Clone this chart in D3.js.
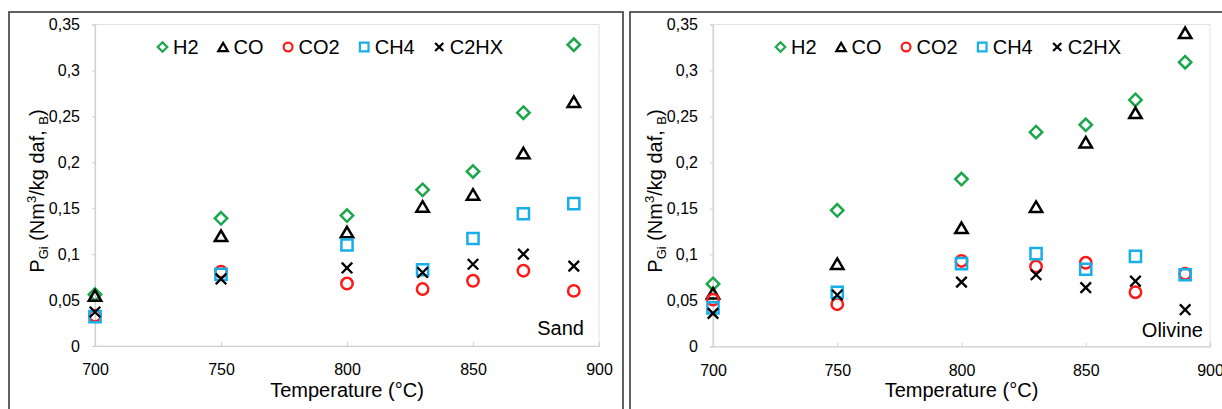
<!DOCTYPE html>
<html>
<head>
<meta charset="utf-8">
<script src="https://cdn.jsdelivr.net/npm/d3@7"></script>
<style>
  html, body { margin: 0; padding: 0; background: #fff; }
  svg { display: block; }
  text { font-family: "Liberation Sans", Arial, sans-serif; fill: #000; }
</style>
</head>
<body>
<svg id="chart" width="1222" height="409"></svg>
<script>
// ---------- data ----------
const temperatures = [700, 750, 800, 830, 850, 870, 890];
const seriesNames = ["H2", "CO", "CO2", "CH4", "C2HX"];

const sandH2   = [0.056, 0.139, 0.142, 0.170, 0.190, 0.254, 0.328];
const sandCO   = [0.055, 0.120, 0.124, 0.152, 0.165, 0.210, 0.266];
const sandCO2  = [0.033, 0.081, 0.068, 0.062, 0.071, 0.082, 0.060];
const sandCH4  = [0.032, 0.078, 0.110, 0.083, 0.117, 0.144, 0.155];
const sandC2HX = [0.037, 0.073, 0.085, 0.080, 0.089, 0.100, 0.087];

const olivineH2   = [0.068, 0.148, 0.182, 0.233, 0.241, 0.268, 0.309];
const olivineCO   = [0.058, 0.090, 0.129, 0.152, 0.222, 0.254, 0.341];
const olivineCO2  = [0.051, 0.046, 0.093, 0.087, 0.091, 0.059, 0.079];
const olivineCH4  = [0.042, 0.059, 0.090, 0.101, 0.084, 0.098, 0.078];
const olivineC2HX = [0.036, 0.056, 0.070, 0.078, 0.064, 0.071, 0.040];

const xTicks = [700, 750, 800, 850, 900];
const yTicks = [0, 0.05, 0.1, 0.15, 0.2, 0.25, 0.3, 0.35];
const yTickLabels = ["0", "0,05", "0,1", "0,15", "0,2", "0,25", "0,3", "0,35"];
const xTitle = "Temperature (°C)";
const panelLabels = ["Sand", "Olivine"];

// ---------- styles ----------
const colors = { H2: "#1ca64c", CO: "#000000", CO2: "#ff1a1a", CH4: "#18aee8", C2HX: "#000000" };
const shapes = { H2: "diamond", CO: "triangle", CO2: "circle", CH4: "square", C2HX: "cross" };

function markerPath(shape, s) {
  // s = half-size
  const p = d3.path();
  if (shape === "diamond") {
    p.moveTo(0, -s); p.lineTo(s, 0); p.lineTo(0, s); p.lineTo(-s, 0); p.closePath();
  } else if (shape === "triangle") {
    const h = s * 1.7;
    p.moveTo(0, -h / 2); p.lineTo(s * 1.0, h / 2); p.lineTo(-s * 1.0, h / 2); p.closePath();
  } else if (shape === "circle") {
    p.arc(0, 0, s * 0.92, 0, 2 * Math.PI);
  } else if (shape === "square") {
    p.rect(-s * 0.9, -s * 0.9, s * 1.8, s * 1.8);
  } else if (shape === "cross") {
    const c = s * 0.85;
    p.moveTo(-c, -c); p.lineTo(c, c); p.moveTo(c, -c); p.lineTo(-c, c);
  }
  return p.toString();
}

const svg = d3.select("#chart");

const panels = [
  { frame: { x: 9, y: 12, w: 614, h: 420 },
    plot: { left: 95, right: 599, top: 24.5, bottom: 346 },
    titleX: 37, labelRight: 584, labelBase: 335,
    data: [sandH2, sandCO, sandCO2, sandCH4, sandC2HX], label: panelLabels[0] },
  { frame: { x: 630, y: 12, w: 640, h: 420 },
    plot: { left: 713, right: 1210, top: 24.5, bottom: 346.5 },
    titleX: 655, labelRight: 1203, labelBase: 337,
    data: [olivineH2, olivineCO, olivineCO2, olivineCH4, olivineC2HX], label: panelLabels[1] }
];

panels.forEach(panel => {
  const g = svg.append("g");
  const P = panel.plot;

  // outer frame
  g.append("rect")
    .attr("x", panel.frame.x).attr("y", panel.frame.y)
    .attr("width", panel.frame.w).attr("height", panel.frame.h)
    .attr("fill", "none").attr("stroke", "#3a3a3a").attr("stroke-width", 1.6);

  const x = d3.scaleLinear().domain([700, 900]).range([P.left, P.right]);
  const y = d3.scaleLinear().domain([0, 0.35]).range([P.bottom, P.top]);

  // plot area border
  g.append("rect")
    .attr("x", P.left).attr("y", P.top)
    .attr("width", P.right - P.left).attr("height", P.bottom - P.top)
    .attr("fill", "none").attr("stroke", "#e0e0e0").attr("stroke-width", 1);

  // x axis
  const xAxis = d3.axisBottom(x).tickValues(xTicks).tickSize(-4).tickPadding(18).tickFormat(d3.format("d"));
  const gx = g.append("g").attr("transform", `translate(0,${P.bottom})`).call(xAxis);
  gx.select(".domain").attr("stroke", "#d0d0d0").attr("stroke-width", 1.2);
  gx.selectAll(".tick line").attr("stroke", "#d0d0d0");
  gx.selectAll(".tick text").attr("font-size", 16).attr("font-family", "Liberation Sans, Arial, sans-serif").attr("fill", "#111");

  // y axis
  const yAxis = d3.axisLeft(y).tickValues(yTicks).tickSize(3).tickPadding(12)
    .tickFormat((d, i) => yTickLabels[i]);
  const gy = g.append("g").attr("transform", `translate(${P.left},0)`).call(yAxis);
  gy.select(".domain").attr("stroke", "#d0d0d0").attr("stroke-width", 1.2);
  gy.selectAll(".tick line").attr("stroke", "#d0d0d0");
  gy.selectAll(".tick text").attr("font-size", 16).attr("font-family", "Liberation Sans, Arial, sans-serif").attr("fill", "#111");

  // x title
  g.append("text")
    .attr("x", (P.left + P.right) / 2).attr("y", 397)
    .attr("text-anchor", "middle").attr("font-size", 20)
    .text(xTitle);

  // y title
  const yt = g.append("text")
    .attr("transform", `translate(${panel.titleX + 7},${191})rotate(-90)`)
    .attr("text-anchor", "middle").attr("font-size", 20);
  yt.append("tspan").text("P");
  yt.append("tspan").attr("font-size", 13).attr("dy", 4).text("Gi");
  yt.append("tspan").attr("dy", -4).text(" (Nm");
  yt.append("tspan").attr("font-size", 13).attr("dy", -8).text("3");
  yt.append("tspan").attr("dy", 8).text("/kg daf, ");
  yt.append("tspan").attr("font-size", 13).attr("dy", 4).text("B");
  yt.append("tspan").attr("dy", -4).text(")");

  // panel label
  g.append("text")
    .attr("x", panel.labelRight).attr("y", panel.labelBase)
    .attr("text-anchor", "end").attr("font-size", 20)
    .text(panel.label);

  // markers
  seriesNames.forEach((name, si) => {
    const vals = panel.data[si];
    g.append("g").selectAll("path")
      .data(temperatures.map((t, i) => ({ t, v: vals[i] })))
      .join("path")
      .attr("transform", d => `translate(${x(d.t)},${y(d.v)})`)
      .attr("d", markerPath(shapes[name], 6.2))
      .attr("fill", "none")
      .attr("stroke", colors[name])
      .attr("stroke-width", name === "C2HX" ? 2.3 : 2.5)
      .attr("stroke-linejoin", "miter");
  });

  // legend
  const lg = g.append("g").attr("transform", `translate(${P.left + 67.5},47)`);
  let cx = 0;
  seriesNames.forEach(name => {
    lg.append("path")
      .attr("transform", `translate(${cx},0)`)
      .attr("d", markerPath(shapes[name], 4.8))
      .attr("fill", "none").attr("stroke", colors[name]).attr("stroke-width", 2.2);
    const t = lg.append("text")
      .attr("x", cx + 10.5).attr("y", 7)
      .attr("font-size", 20).text(name);
    const w = t.node().getComputedTextLength();
    cx = cx + 10.5 + w + 24.5;
  });
});
</script>
</body>
</html>
